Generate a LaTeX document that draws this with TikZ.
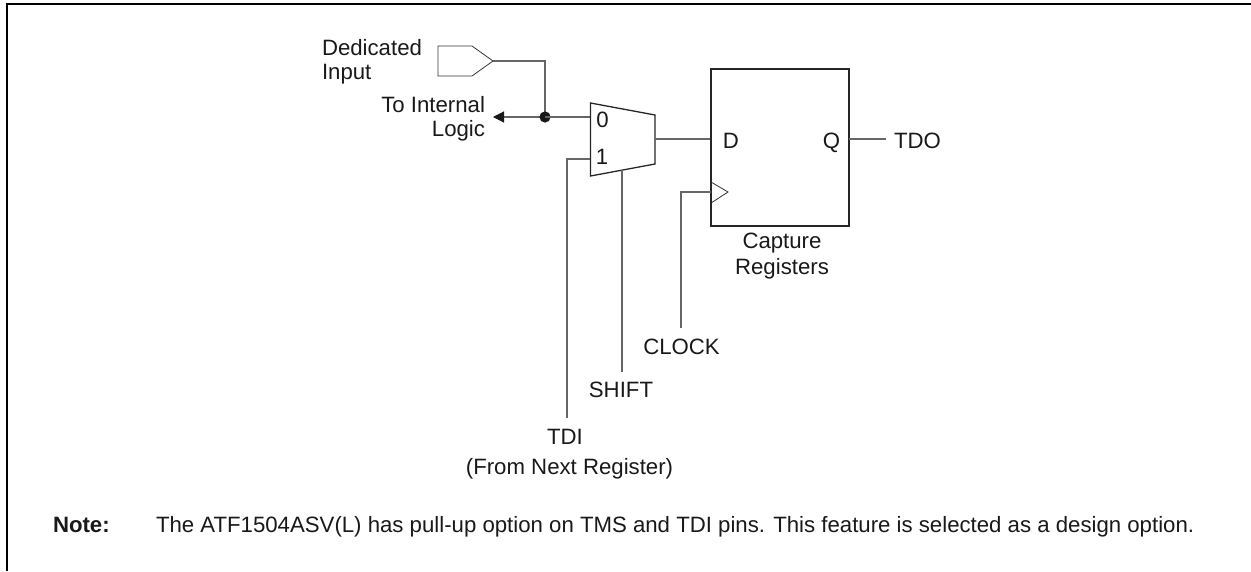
\documentclass[tikz,border=0pt]{standalone}
\usepackage{fontspec}
\setmainfont{Liberation Sans}
\usetikzlibrary{arrows.meta}
\tikzset{
  x=1pt,y=-1pt,
  wire/.style={draw=black!60,line width=1.1pt},
  shape line/.style={draw=black!85,line width=1.3pt},
  thin shape/.style={draw=black!80,line width=0.8pt},
  lbl/.style={font=\fontsize{22.2}{24}\selectfont,text=black!90,inner sep=0pt,outer sep=0pt},
}
\begin{document}
\begin{tikzpicture}
\useasboundingbox (0,0) rectangle (1251,571);
% frame
\draw[black,line width=2pt] (7,571) -- (7,4) -- (1251,4);
% coordinates
\coordinate (tip) at (493,61);
\coordinate (dot) at (545,117);
\coordinate (bend) at (545,61);
\coordinate (arrowend) at (493,117);
\coordinate (mux0) at (590,117);
\coordinate (mux1) at (590,159);
\coordinate (muxout) at (655,139);
\coordinate (muxbot) at (622,170);
\coordinate (ffD) at (711,139);
\coordinate (ffQ) at (849,139);
\coordinate (ffclk) at (711,192);
% input buffer
\node[lbl,align=left,anchor=base west] (dedicated) at (322,79) {Dedicated\\Input};
\draw[thin shape] (438,46) -- (472,46) -- (tip) -- (472,76) -- (438,76) -- cycle;
\draw[wire] (tip) -- (bend) -- (dot);
% to logic
\node[lbl,align=right,anchor=base east] (tologic) at (485,136) {To Internal\\Logic\hspace{5pt}};
\draw[wire,-{Triangle[length=11pt,width=11pt,black!90]}] (dot) -- (arrowend);
\fill[black!90] (dot) circle[radius=5.6pt];
\draw[wire] (dot) -- (mux0);
% mux
\draw[shape line] (590.5,103) -- (655,115) -- (655,164) -- (590.5,176) -- cycle;
\node[lbl,anchor=base] (zero) at (602.5,127) {0};
\node[lbl,anchor=base] (one) at (602,164) {1};
\coordinate (tdiup) at (567,159);
\node[lbl,anchor=base] (tdi) at (565,444) {TDI};
\node[lbl,anchor=base] (from) at (569.5,474) {(From Next Register)};
\coordinate (tdibot) at (567,418);
\draw[wire] (mux1) -- (tdiup) -- (tdibot);
\coordinate (shiftbot) at (622,372);
\node[lbl,anchor=base] (shift) at (621,397) {SHIFT};
\draw[wire] (muxbot) -- (shiftbot);
\draw[wire] (muxout) -- (ffD);
% flip-flop
\node[draw=black!85,line width=1.3pt,minimum width=138pt,minimum height=157pt,inner sep=0pt] (ff) at (780,147.5) {};
\node[lbl,anchor=base] (d) at (731,148) {D};
\node[lbl,anchor=base] (q) at (831.5,148) {Q};
\draw[thin shape] (711,182) -- (728,192) -- (711,203);
\coordinate (clkbend) at (681,192);
\coordinate (clkbot) at (681,328);
\draw[wire] (ffclk) -- (clkbend) -- (clkbot);
\node[lbl,anchor=base] (clock) at (681.5,354) {CLOCK};
\draw[wire] (ffQ) -- (886,139);
\node[lbl,anchor=base west] (tdo) at (894,148) {TDO};
\node[lbl,align=center,anchor=base] (capture) at (782,274) {Capture\\[2pt]Registers};
% note
\node[lbl,anchor=base west,font=\fontsize{22.2}{24}\selectfont\bfseries] (note) at (53,532) {Note:};
\node[lbl,anchor=base west] (notetext) at (156,532) {The ATF1504ASV(L) has pull-up option on TMS and TDI pins. This feature is selected as a design option.};
\end{tikzpicture}
\end{document}
